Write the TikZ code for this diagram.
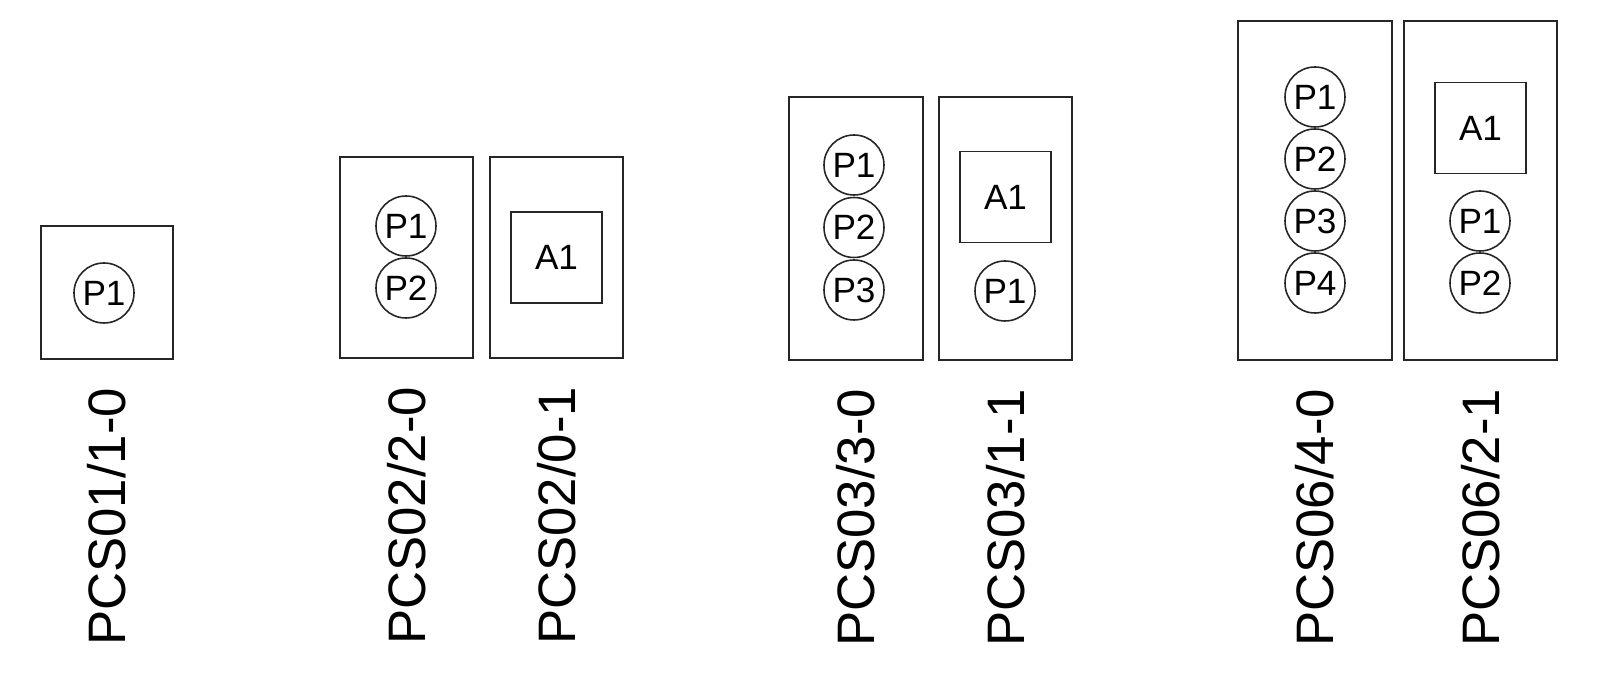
\documentclass[tikz,border=0pt]{standalone}
\usepackage{fontspec}
\setmainfont{Liberation Sans}
\usetikzlibrary{positioning}

\begin{document}
\begin{tikzpicture}[
        unit/.style={draw=black!85, line width=0.65pt, minimum width=#1, inner sep=0pt},
        pin/.style={draw=black!85, circle, line width=0.45pt, minimum size=0.6cm, inner sep=0pt, font=\fontsize{10}{11}\selectfont},
        aux/.style={draw=black!85, line width=0.55pt, minimum size=0.91cm, inner sep=0pt, font=\fontsize{10}{11}\selectfont},
        lab/.style={rotate=90, anchor=east, inner sep=0pt, font=\fontsize{15}{16}\selectfont}
    ]
        \useasboundingbox (0,0) rectangle (15.98,6.84);
        %外框
        \node [unit=1.32cm, minimum height=1.33cm] (b1) at (1.07,3.915) {};
        \node [unit=1.33cm, minimum height=2.01cm] (b2) at (4.065,4.265) {};
        \node [unit=1.33cm, minimum height=2.01cm] (b3) at (5.565,4.265) {};
        \node [unit=1.34cm, minimum height=2.63cm] (b4) at (8.56,4.555) {};
        \node [unit=1.33cm, minimum height=2.63cm] (b5) at (10.055,4.555) {};
        \node [unit=1.54cm, minimum height=3.39cm] (b6) at (13.15,4.935) {};
        \node [unit=1.53cm, minimum height=3.39cm] (b7) at (14.805,4.935) {};
        %P 圆
        \node [pin] (p11) at (1.04,3.91) {P1};
        \node [pin] (p21) at (4.06,4.58) {P1};
        \node [pin] (p22) at (4.06,3.96) {P2};
        \foreach \i/\y in {1/5.19,2/4.565,3/3.94}
            \node [pin] (p4\i) at (8.54,\y) {P\i};
        \node [pin] (p51) at (10.05,3.93) {P1};
        \foreach \i/\y in {1/5.87,2/5.25,3/4.63,4/4.01}
            \node [pin] (p6\i) at (13.15,\y) {P\i};
        \node [pin] (p71) at (14.80,4.63) {P1};
        \node [pin] (p72) at (14.80,4.01) {P2};
        %A 方框
        \node [aux] (a3) at (5.565,4.265) {A1};
        \node [aux] (a5) at (10.055,4.87) {A1};
        \node [aux] (a7) at (14.805,5.56) {A1};
        %名称
        \node [lab] (l1) at ([yshift=-0.27cm]b1.south) {PCS01/1-0};
        \node [lab] (l2) at ([yshift=-0.27cm]b2.south) {PCS02/2-0};
        \node [lab] (l3) at ([yshift=-0.27cm]b3.south) {PCS02/0-1};
        \node [lab] (l4) at ([yshift=-0.27cm]b4.south) {PCS03/3-0};
        \node [lab] (l5) at ([yshift=-0.27cm]b5.south) {PCS03/1-1};
        \node [lab] (l6) at ([yshift=-0.27cm]b6.south) {PCS06/4-0};
        \node [lab] (l7) at ([yshift=-0.27cm]b7.south) {PCS06/2-1};
    \end{tikzpicture}
\end{document}
